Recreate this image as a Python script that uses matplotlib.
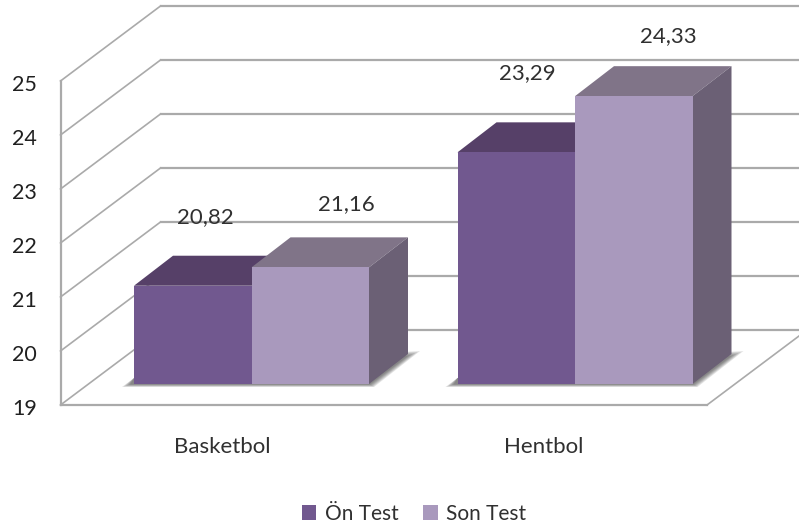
import matplotlib
matplotlib.use('Agg')
import matplotlib.pyplot as plt
from matplotlib.patches import Polygon

categorias = ['Basketbol', 'Hentbol']
on_test = [20.82, 23.29]
son_test = [21.16, 24.33]
etiquetas_on = ['20,82', '23,29']
etiquetas_son = ['21,16', '24,33']
ticks = [19, 20, 21, 22, 23, 24, 25]

# Geometria en pixeles de la imagen
PX_UNIDAD = 54.0
Y_BASE = 405.0
ANCHO_BARRA = 117.5
CENTROS = [251.5, 575.0]
PARED_DX, PARED_DY = 100, 75
BARRA_DX, BARRA_DY = 39, 30
ELEVA = 21
# Posicion de las etiquetas respecto a cada barra (dx, dy en pixeles)
POS_ON = [(-46.5, 69), (-48, 79)]
POS_SON = [(94.5, 63), (93, 60)]
POS_CAT = [-29.5, -31.5]

plt.rcParams['font.family'] = ['Lato', 'DejaVu Sans']

fig = plt.figure(figsize=(7.99, 5.31), dpi=100)
ax = fig.add_axes([0, 0, 1, 1])
ax.set_xlim(0, 799)
ax.set_ylim(ticks[0] - (531 - Y_BASE) / PX_UNIDAD, ticks[0] + Y_BASE / PX_UNIDAD)
ax.axis('off')

def uy(px):
    return px / PX_UNIDAD  # pixeles a unidades del eje y

gris = '#aaaaaa'
x0, x1 = 60.5, 707

# Rejilla: diagonal lateral y linea del fondo
for t in ticks:
    ax.plot([x0, x0 + PARED_DX], [t, t + uy(PARED_DY)], color=gris, lw=1.2, zorder=1)
    ax.plot([x0 + PARED_DX, 807], [t + uy(PARED_DY), t + uy(PARED_DY)], color=gris, lw=1.6, zorder=1)
ax.plot([x0, x0], [ticks[0], ticks[-1]], color=gris, lw=1.6, zorder=2)
ax.plot([x0, x1], [ticks[0], ticks[0]], color=gris, lw=1.6, zorder=2)
ax.plot([x1, x1 + PARED_DX], [ticks[0], ticks[0] + uy(PARED_DY)], color=gris, lw=1.2, zorder=2)

def sombra(xa, xb, base):
    # sombra difusa a base de capas transparentes
    for k in range(6):
        e = k * 1.6
        ax.add_patch(Polygon([(xa - 12 + e, base - uy(3 - k * 0.5)), (xa, base + uy(6)),
                              (xb, base + uy(30)), (xb + BARRA_DX + 12 - e * 1.5, base + uy(33 - k)),
                              (xb + 5 - e * 0.5, base - uy(3 - k * 0.5))],
                             closed=True, fc='#303030', ec='none', alpha=0.13, zorder=3))

def barra_3d(x, valor, color_frente, color_arriba, color_lado, label, z):
    base = ticks[0] + uy(ELEVA)
    alto = valor - ticks[0]
    barra = ax.bar(x, alto, width=ANCHO_BARRA, bottom=base, align='edge',
                   color=color_frente, label=label, zorder=z + 1, lw=0)
    tope = base + alto
    ax.add_patch(Polygon([(x, tope), (x + ANCHO_BARRA, tope),
                          (x + ANCHO_BARRA + BARRA_DX, tope + uy(BARRA_DY)), (x + BARRA_DX, tope + uy(BARRA_DY))],
                         closed=True, fc=color_arriba, ec='none', zorder=z))
    ax.add_patch(Polygon([(x + ANCHO_BARRA, base), (x + ANCHO_BARRA, tope),
                          (x + ANCHO_BARRA + BARRA_DX, tope + uy(BARRA_DY)), (x + ANCHO_BARRA + BARRA_DX, base + uy(BARRA_DY))],
                         closed=True, fc=color_lado, ec='none', zorder=z))
    return barra

for i, c in enumerate(CENTROS):
    sombra(c - ANCHO_BARRA, c + ANCHO_BARRA, ticks[0] + uy(ELEVA))
    barra_3d(c - ANCHO_BARRA, on_test[i], '#71588f', '#564068', '#5a4670',
             'Ön Test' if i == 0 else None, 4)
    barra_3d(c, son_test[i], '#a999bd', '#807488', '#6b6075',
             'Son Test' if i == 0 else None, 6)

# Etiquetas de valores
for i, c in enumerate(CENTROS):
    ax.text(c + POS_ON[i][0], on_test[i] + uy(ELEVA + POS_ON[i][1]), etiquetas_on[i], ha='center', va='center',
            fontsize=16, color='#303030', zorder=9)
    ax.text(c + POS_SON[i][0], son_test[i] + uy(ELEVA + POS_SON[i][1]), etiquetas_son[i], ha='center', va='center',
            fontsize=16, color='#303030', zorder=9)

for t in ticks:
    ax.text(24.5, t - uy(4), str(t), ha='center', va='center', fontsize=15.5, color='#202020')

for c, nombre, dx in zip(CENTROS, categorias, POS_CAT):
    ax.text(c + dx, ticks[0] - uy(42), nombre, ha='center', va='center', fontsize=16, color='#303030')

ax.legend(loc='center', bbox_to_anchor=(414 / 799, 1 - 514 / 531), ncols=2, frameon=False,
          fontsize=15, handlelength=0.7, handleheight=0.7, handletextpad=0.4, columnspacing=1.2,
          labelcolor='#303030')

fig.savefig('out.png', dpi=100)
